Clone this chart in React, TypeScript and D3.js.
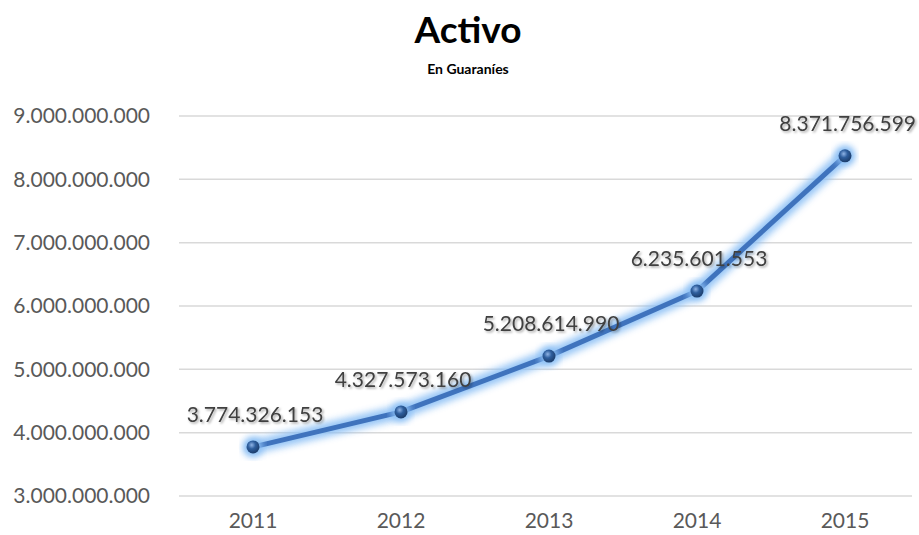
import React from "react";
import * as d3 from "d3";

const years = ["2011", "2012", "2013", "2014", "2015"];
const activo = [3774326153, 4327573160, 5208614990, 6235601553, 8371756599];
const yTicks = [3e9, 4e9, 5e9, 6e9, 7e9, 8e9, 9e9];

const width = 919;
const height = 535;
const font = "Lato, 'Open Sans', sans-serif";

const fmt = (v: number) =>
    Math.round(v).toString().replace(/\B(?=(\d{3})+(?!\d))/g, ".");

export default function App() {
    const x = d3.scaleBand<string>()
        .domain(years)
        .range([179, 919])
        .padding(0);

    const y = d3.scaleLinear()
        .domain([3e9, 9e9])
        .range([496, 116]);

    const cx = (d: string) => (x(d) as number) + x.bandwidth() / 2;

    const line = d3.line<number>()
        .x((_, i) => cx(years[i]))
        .y((d) => y(d));

    const path = line(activo) as string;

    return (
        <svg
            width={width}
            height={height}
            style={{position: "absolute", left: 0, top: 0, background: "#fff"}}
        >
            <defs>
                <filter id="glow" x="-20%" y="-20%" width="140%" height="140%">
                    <feGaussianBlur stdDeviation="3.5" />
                </filter>
                <filter id="shadow" x="-10%" y="-30%" width="120%" height="160%">
                    <feDropShadow dx="1.5" dy="1.5" stdDeviation="1.2" floodColor="#000" floodOpacity="0.35" />
                </filter>
                <radialGradient id="ball" cx="40%" cy="35%" r="65%">
                    <stop offset="0%" stopColor="#8fb4e6" />
                    <stop offset="45%" stopColor="#2f5f9e" />
                    <stop offset="100%" stopColor="#1c3d6b" />
                </radialGradient>
            </defs>

            <text x={468} y={43} textAnchor="middle" fontFamily={font} fontWeight="bold" fontSize={37} fill="#000">
                Activo
            </text>
            <text x={468} y={74} textAnchor="middle" fontFamily={font} fontWeight="bold" fontSize={14} fill="#000">
                En Guaraníes
            </text>

            {yTicks.map((t) => (
                <g key={t}>
                    <line x1={179} x2={912} y1={y(t)} y2={y(t)} stroke="#d9d9d9" strokeWidth={1.5} />
                    <text x={150} y={y(t)} dy="0.35em" textAnchor="end" fontFamily={font} fontSize={21} fill="#595959">
                        {fmt(t)}
                    </text>
                </g>
            ))}

            {years.map((yr) => (
                <text key={yr} x={cx(yr)} y={528} textAnchor="middle" fontFamily={font} fontSize={21} fill="#595959">
                    {yr}
                </text>
            ))}

            <path d={path} fill="none" stroke="#8cc0f5" strokeWidth={14} strokeLinejoin="round" strokeLinecap="round" filter="url(#glow)" opacity={0.9} />
            <path d={path} fill="none" stroke="#3f73bd" strokeWidth={5} strokeLinejoin="round" strokeLinecap="round" />

            {activo.map((v, i) => (
                <g key={years[i]}>
                    <circle cx={cx(years[i])} cy={y(v)} r={10} fill="#8cc0f5" filter="url(#glow)" />
                    <circle cx={cx(years[i])} cy={y(v)} r={6.5} fill="url(#ball)" />
                </g>
            ))}

            {activo.map((v, i) => (
                <text
                    key={"l" + years[i]}
                    x={i === 4 ? 916 : cx(years[i]) + 2}
                    y={y(v) - 25}
                    textAnchor={i === 4 ? "end" : "middle"}
                    fontFamily={font}
                    fontSize={21}
                    fill="#404040"
                    filter="url(#shadow)"
                >
                    {fmt(v)}
                </text>
            ))}
        </svg>
    );
}
